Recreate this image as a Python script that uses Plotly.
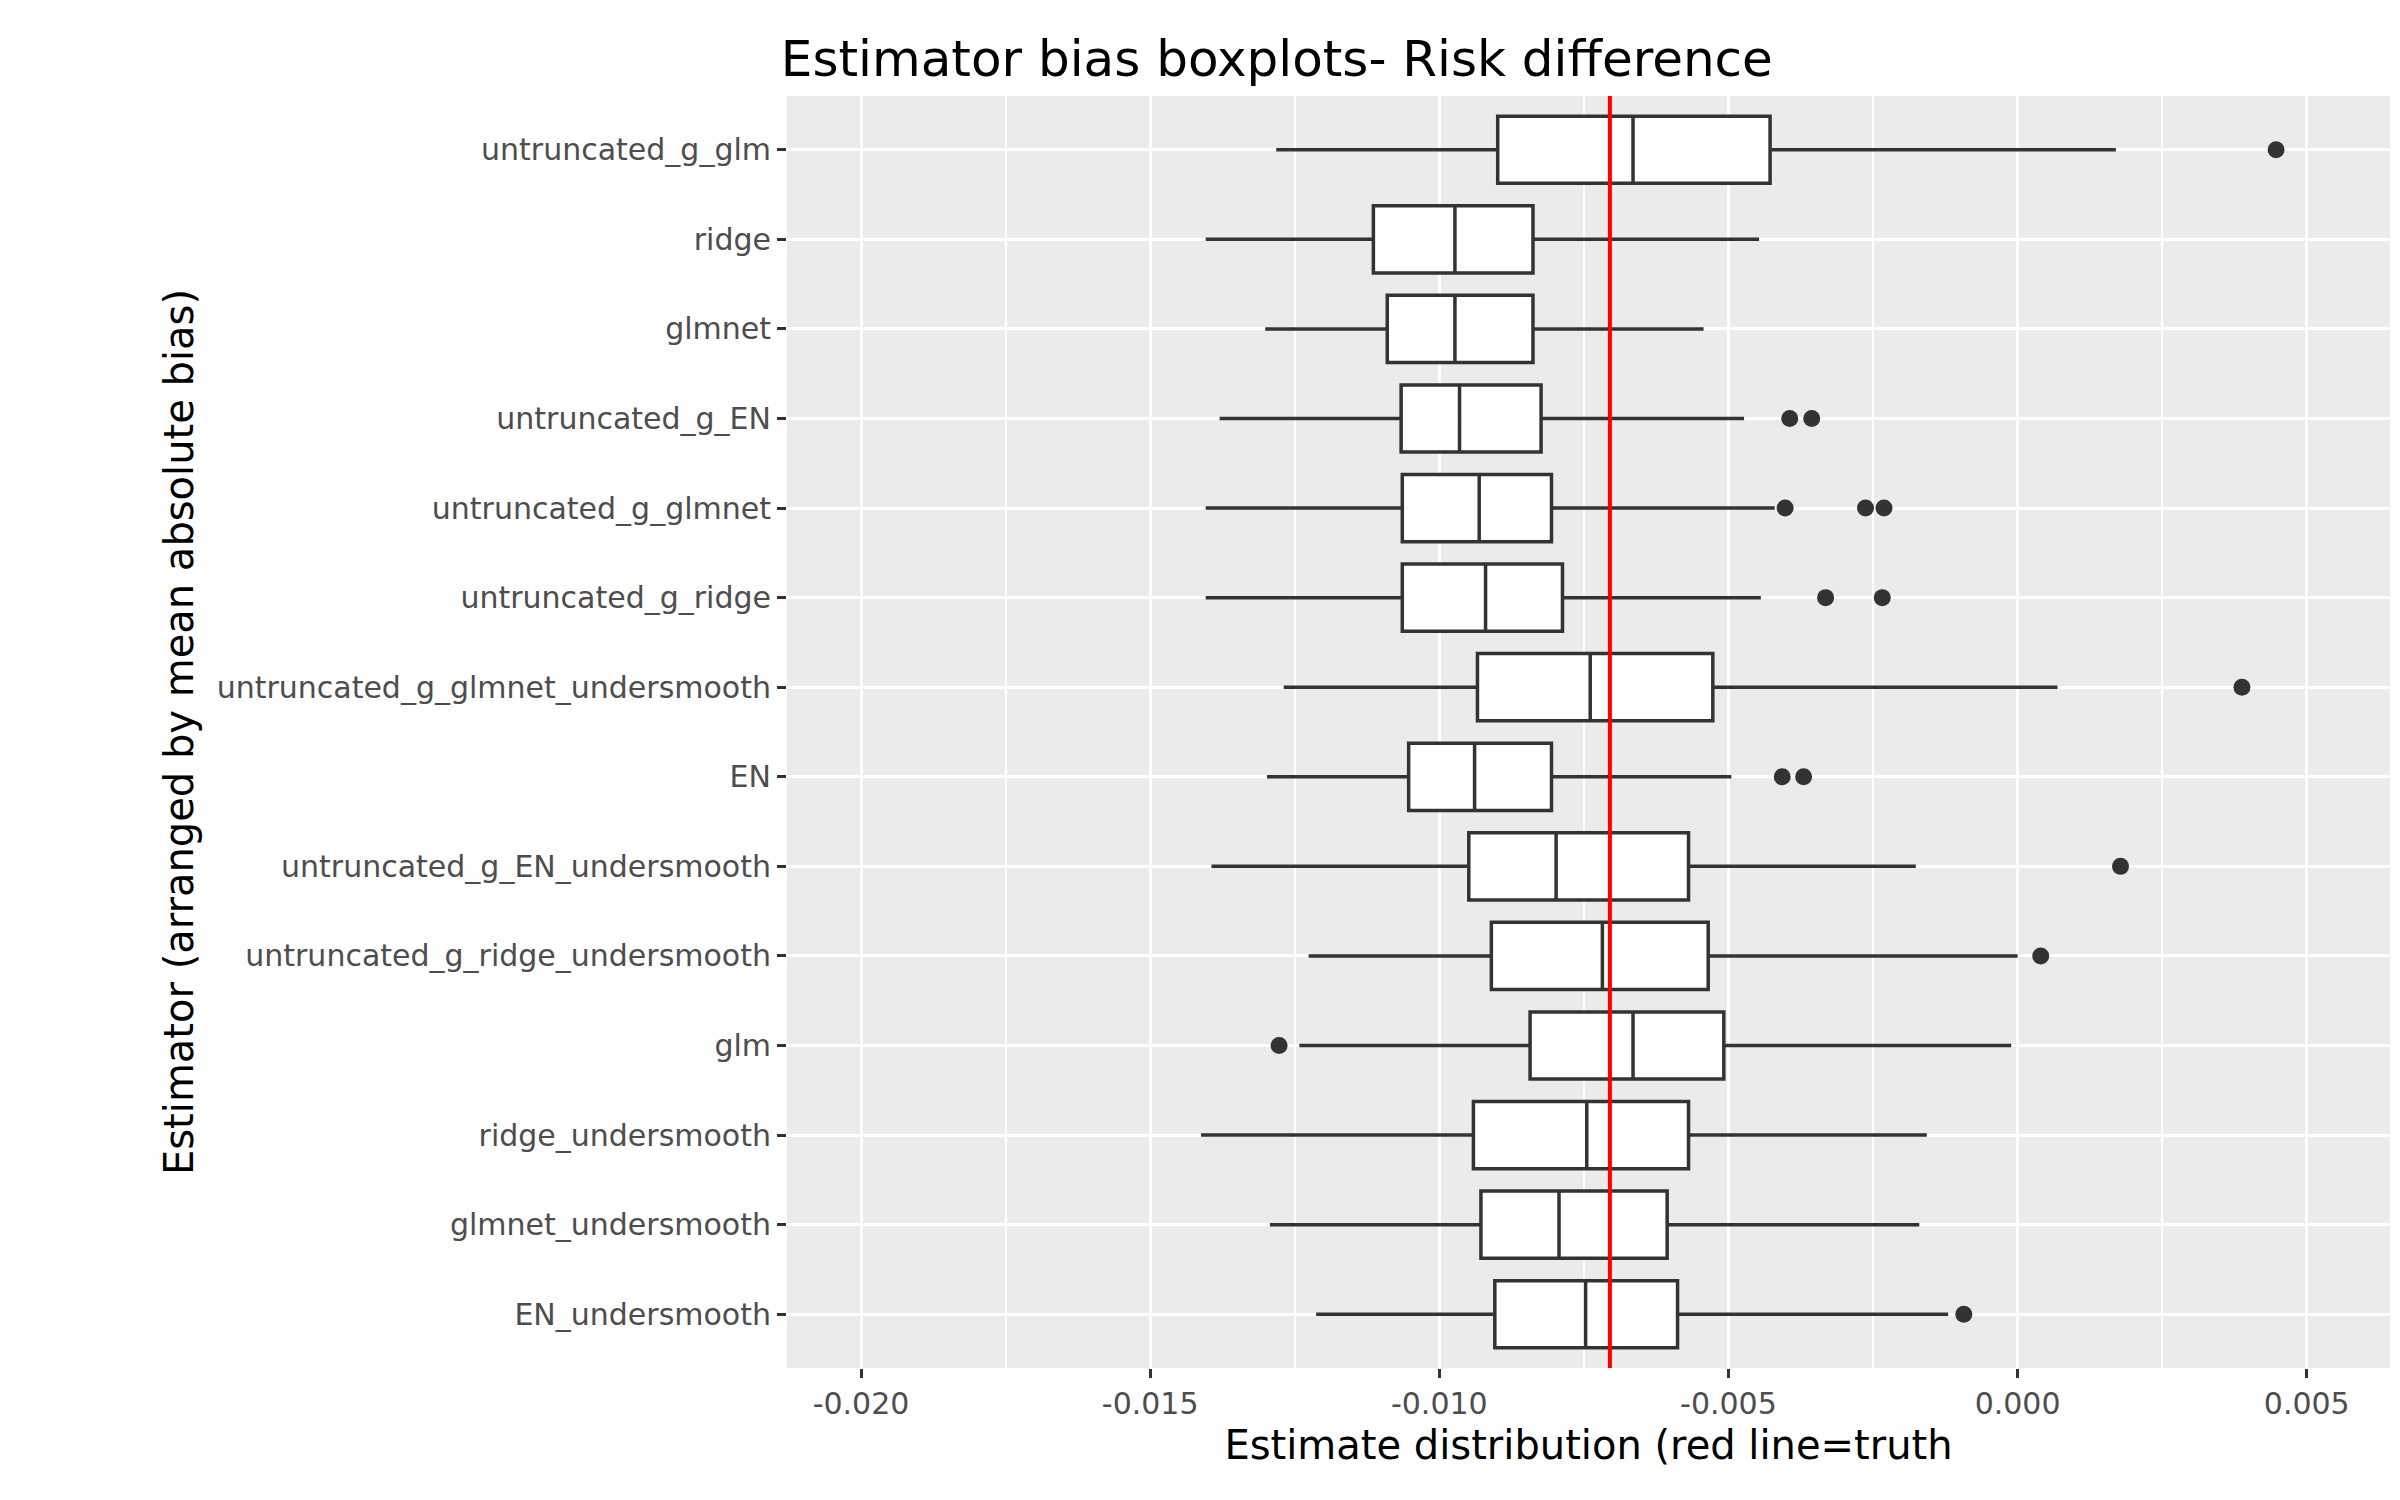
import plotly.graph_objects as go

estimators = ["untruncated_g_glm", "ridge", "glmnet", "untruncated_g_EN", "untruncated_g_glmnet",
              "untruncated_g_ridge", "untruncated_g_glmnet_undersmooth", "EN",
              "untruncated_g_EN_undersmooth", "untruncated_g_ridge_undersmooth", "glm",
              "ridge_undersmooth", "glmnet_undersmooth", "EN_undersmooth"]
lower = [-0.01282, -0.01404, -0.01301, -0.01380, -0.01404, -0.01404, -0.01269, -0.01298,
         -0.01394, -0.01226, -0.01242, -0.01412, -0.01293, -0.01213]
q1 = [-0.00899, -0.01114, -0.01090, -0.01066, -0.01064, -0.01064, -0.00934, -0.01053,
      -0.00949, -0.00910, -0.00843, -0.00941, -0.00928, -0.00904]
median = [-0.00665, -0.00973, -0.00973, -0.00965, -0.00931, -0.00920, -0.00739, -0.00939,
          -0.00798, -0.00718, -0.00665, -0.00745, -0.00793, -0.00747]
q3 = [-0.00428, -0.00838, -0.00838, -0.00824, -0.00806, -0.00787, -0.00527, -0.00806,
      -0.00569, -0.00535, -0.00508, -0.00569, -0.00606, -0.00588]
upper = [0.00170, -0.00447, -0.00543, -0.00473, -0.00420, -0.00444, 0.00069, -0.00495,
         -0.00176, 0.0, -0.00011, -0.00157, -0.00170, -0.00120]
outliers = [[0.00447], [], [], [-0.00394, -0.00356], [-0.00402, -0.00263, -0.00231],
            [-0.00332, -0.00234], [0.00388], [-0.00407, -0.00370], [0.00178], [0.00040],
            [-0.01277], [], [], [-0.00093]]
truth = -0.00705

fig = go.Figure()
fig.add_trace(go.Box(
    y=estimators, q1=q1, median=median, q3=q3, lowerfence=lower, upperfence=upper,
    orientation="h", fillcolor="white", line=dict(color="#333333", width=3.5),
    width=0.75, whiskerwidth=0, boxpoints=False, hoverinfo="x"))
out_x, out_y = [], []
for name, pts in zip(estimators, outliers):
    for p in pts:
        out_x.append(p)
        out_y.append(name)
fig.add_trace(go.Scatter(x=out_x, y=out_y, mode="markers",
                         marker=dict(color="#333333", size=17)))
fig.add_shape(type="line", x0=truth, x1=truth, y0=0, y1=1, yref="paper",
              line=dict(color="red", width=4))

fig.update_layout(
    width=2400, height=1500, showlegend=False,
    paper_bgcolor="white", plot_bgcolor="#EBEBEB",
    margin=dict(l=779, r=18, t=88, b=140),
    font=dict(family="DejaVu Sans", color="#4D4D4D", size=30),
    title=dict(text="Estimator bias boxplots- Risk difference", x=0.322, xanchor="left",
               y=0.978, font=dict(size=50, color="black")),
)
fig.update_xaxes(
    range=[-0.02128, 0.00644], tickvals=[-0.02, -0.015, -0.01, -0.005, 0, 0.005],
    ticktext=["-0.020", "-0.015", "-0.010", "-0.005", "0.000", "0.005"],
    showgrid=True, gridcolor="white", gridwidth=3, zeroline=False,
    minor=dict(tickvals=[-0.0175, -0.0125, -0.0075, -0.0025, 0.0025], showgrid=True,
               gridcolor="white", gridwidth=1.5, ticks=""),
    ticks="outside", ticklen=9, tickcolor="#333333", tickwidth=3,
    title=dict(text="Estimate distribution (red line=truth", font=dict(size=40, color="black"),
               standoff=10))
fig.update_yaxes(
    categoryorder="array", categoryarray=estimators, range=[13.6, -0.6],
    showgrid=True, gridcolor="white", gridwidth=3, zeroline=False,
    ticks="outside", ticklen=9, tickcolor="#333333", tickwidth=3,
    title=dict(text="Estimator (arranged by mean absolute bias)", font=dict(size=40, color="black"),
               standoff=10))
fig.write_html("out.html")
